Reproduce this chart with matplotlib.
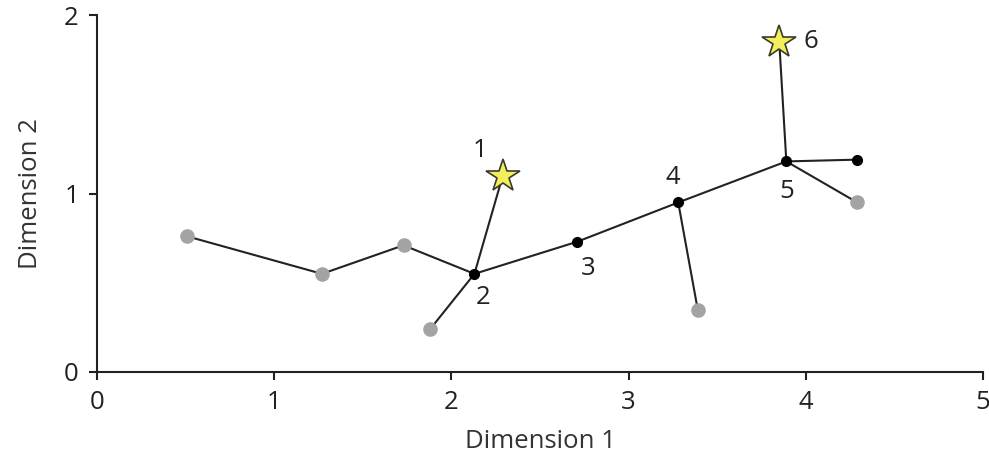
import numpy as np
import matplotlib
matplotlib.use("Agg")
import matplotlib.pyplot as plt

plt.rcParams['font.family'] = ['Open Sans', 'DejaVu Sans']

## Data
# grey = unsampled nodes, black = sampled nodes, stars = goals
grey_x = [0.51, 1.27, 1.73, 1.88, 3.39, 4.29]
grey_y = [0.76, 0.55, 0.71, 0.24, 0.35, 0.95]
black_x = [2.13, 2.71, 3.28, 3.89, 4.29]
black_y = [0.55, 0.73, 0.95, 1.18, 1.19]
star_x = [2.29, 3.85]
star_y = [1.10, 1.85]

# edges of the tree, as pairs of (x, y) nodes
edges = [
    ((0.51, 0.76), (1.27, 0.55)),
    ((1.27, 0.55), (1.73, 0.71)),
    ((1.73, 0.71), (2.13, 0.55)),
    ((2.13, 0.55), (1.88, 0.24)),
    ((2.13, 0.55), (2.29, 1.10)),
    ((2.13, 0.55), (2.71, 0.73)),
    ((2.71, 0.73), (3.28, 0.95)),
    ((3.28, 0.95), (3.39, 0.35)),
    ((3.28, 0.95), (3.89, 1.18)),
    ((3.89, 1.18), (3.85, 1.85)),
    ((3.89, 1.18), (4.29, 1.19)),
    ((3.89, 1.18), (4.29, 0.95)),
]

labels = ['1', '2', '3', '4', '5', '6']
label_x = [2.16, 2.18, 2.77, 3.25, 3.89, 4.03]
label_y = [1.24, 0.42, 0.58, 1.09, 1.01, 1.85]

fontsize = 18.5

fig = plt.figure(figsize=(9.89, 4.57), dpi=100)
ax = fig.add_axes([0.098, 0.186, 0.896, 0.781])

for (x0, y0), (x1, y1) in edges:
    ax.plot([x0, x1], [y0, y1], color='#222222', lw=1.5, zorder=1)

ax.plot(grey_x, grey_y, 'o', color='#a3a3a3', ms=10.5, mec='none', zorder=2, clip_on=False)
ax.plot(black_x, black_y, 'o', color='black', ms=7, zorder=3, clip_on=False)
ax.plot(star_x, star_y, '*', color='#f4ee5c', mec='#3a3a2a', mew=1.2, ms=25, zorder=4, clip_on=False)

for t, x, y in zip(labels, label_x, label_y):
    ax.text(x, y, t, fontsize=fontsize, ha='center', va='center', color='#222222')

ax.set_xlim(0, 5)
ax.set_ylim(0, 2)
ax.set_xticks([0, 1, 2, 3, 4, 5])
ax.set_yticks([0, 1, 2])
ax.spines['top'].set_visible(False)
ax.spines['right'].set_visible(False)
for s in ['left', 'bottom']:
    ax.spines[s].set_linewidth(1.5)
    ax.spines[s].set_color('#222222')
ax.tick_params(axis='both', labelsize=fontsize, width=1.5, length=6, colors='#222222', pad=7)
ax.set_xlabel('Dimension 1', fontsize=fontsize, color='#333333', labelpad=10)
ax.set_ylabel('Dimension 2', fontsize=fontsize, color='#333333', labelpad=15)

fig.savefig('out.png', dpi=100)
